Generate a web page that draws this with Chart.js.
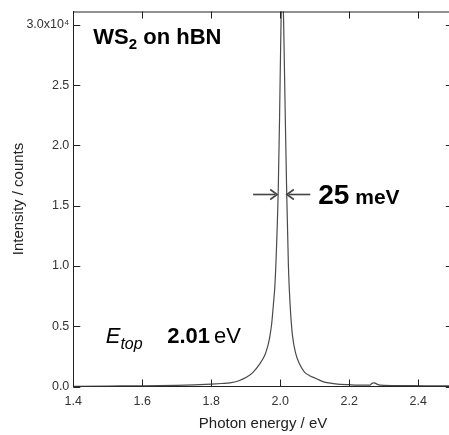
<!DOCTYPE html>
<html>
<head>
<meta charset="utf-8">
<script src="https://cdn.jsdelivr.net/npm/chart.js@4.4.1/dist/chart.umd.min.js"></script>
<style>
  html, body { margin: 0; padding: 0; background: #fff; overflow: hidden; }
  canvas { display: block; }
</style>
</head>
<body>
<canvas id="c" width="456" height="435"></canvas>
<script>
// Photon energy (eV)
const energy = [1.40, 1.50, 1.60, 1.70, 1.75, 1.80, 1.83, 1.854, 1.88, 1.903, 1.92, 1.941, 1.955, 1.96,
  1.965, 1.970, 1.975, 1.980, 1.9846, 1.989, 1.9942, 1.998, 2.002, 2.006, 2.0098, 2.014, 2.0186,
  2.0235, 2.028, 2.035, 2.045, 2.057, 2.07, 2.085, 2.10, 2.12, 2.135, 2.16, 2.20, 2.24, 2.26,
  2.265, 2.27, 2.275, 2.28, 2.29, 2.35, 2.42, 2.5];
// PL intensity (counts)
const intensity = [20, 40, 60, 100, 140, 200, 250, 300, 480, 780, 1150, 1900, 2600, 3000,
  3500, 4200, 5200, 6800, 8500, 11500, 16500, 22500, 30000, 33500, 30000, 23000, 16000,
  10000, 7000, 4300, 2700, 1800, 1200, 900, 700, 450, 320, 220, 150, 110, 110,
  250, 300, 280, 200, 120, 80, 60, 50];
// Axis ticks
const xTicks = [1.4, 1.6, 1.8, 2.0, 2.2, 2.4];
const xTickLabels = ['1.4', '1.6', '1.8', '2.0', '2.2', '2.4'];
const yTicks = [0, 5000, 10000, 15000, 20000, 25000, 30000];
const yTickLabels = ['0.0', '0.5', '1.0', '1.5', '2.0', '2.5', '3.0x10\u2074'];
// Annotation values
const fwhmLevel = 16000;
const fwhmText = ['25', ' meV'];
const peakText = '2.01';

const points = energy.map((e, i) => ({ x: e, y: intensity[i] }));
const FONT = "'Liberation Sans', Arial, Helvetica, sans-serif";

const decor = {
  id: 'decor',
  afterDraw(chart) {
    const { ctx, chartArea: { left, right, top, bottom }, scales: { x, y } } = chart;
    ctx.save();
    ctx.strokeStyle = '#222';
    ctx.lineWidth = 1;
    ctx.beginPath();
    ctx.moveTo(left, top + 0.5); ctx.lineTo(right, top + 0.5);
    ctx.moveTo(right - 0.5, top); ctx.lineTo(right - 0.5, bottom);
    const tl = 7;
    xTicks.forEach(v => {
      const px = Math.round(x.getPixelForValue(v)) + 0.5;
      ctx.moveTo(px, bottom); ctx.lineTo(px, bottom - tl);
      ctx.moveTo(px, top); ctx.lineTo(px, top + tl);
    });
    yTicks.forEach(v => {
      const py = Math.round(y.getPixelForValue(v)) + 0.5;
      ctx.moveTo(left, py); ctx.lineTo(left + tl, py);
      ctx.moveTo(right, py); ctx.lineTo(right - tl, py);
    });
    ctx.stroke();

    // Title WS2 on hBN
    ctx.fillStyle = '#000';
    ctx.textBaseline = 'alphabetic';
    ctx.textAlign = 'left';
    let tx = x.getPixelForValue(1.458), ty = y.getPixelForValue(28400);
    ctx.font = `bold 22px ${FONT}`;
    ctx.fillText('WS', tx, ty); tx += ctx.measureText('WS').width;
    ctx.font = `bold 15px ${FONT}`;
    ctx.fillText('2', tx, ty + 5); tx += ctx.measureText('2').width;
    ctx.font = `bold 22px ${FONT}`;
    ctx.fillText(' on hBN', tx, ty);

    // FWHM arrows
    const ay = Math.round(y.getPixelForValue(fwhmLevel)) + 0.5;
    ctx.strokeStyle = '#444'; ctx.fillStyle = '#444'; ctx.lineWidth = 1.6;
    const arrow = (x0, x1) => {
      const dir = Math.sign(x1 - x0);
      ctx.beginPath(); ctx.moveTo(x0, ay); ctx.lineTo(x1 - dir * 2, ay); ctx.stroke();
      ctx.beginPath();
      ctx.moveTo(x1 - dir * 7, ay - 5); ctx.lineTo(x1, ay); ctx.lineTo(x1 - dir * 7, ay + 5);
      ctx.stroke();
    };
    arrow(x.getPixelForValue(1.921), x.getPixelForValue(1.991));
    arrow(x.getPixelForValue(2.087), x.getPixelForValue(2.019));

    // 25 meV
    ctx.fillStyle = '#000';
    tx = x.getPixelForValue(2.110); ty = y.getPixelForValue(15100);
    ctx.font = `bold 28px ${FONT}`;
    ctx.fillText(fwhmText[0], tx, ty); tx += ctx.measureText(fwhmText[0]).width;
    ctx.font = `bold 21px ${FONT}`;
    ctx.fillText(fwhmText[1], tx, ty);

    // E_top 2.01 eV
    tx = x.getPixelForValue(1.494); ty = y.getPixelForValue(3600);
    ctx.font = `italic 22px ${FONT}`;
    ctx.fillText('E', tx, ty); tx += ctx.measureText('E').width;
    ctx.font = `italic 16px ${FONT}`;
    ctx.fillText('top', tx, ty + 6);
    tx = x.getPixelForValue(1.672);
    ctx.font = `bold 22px ${FONT}`;
    ctx.fillText(peakText, tx, ty); tx += ctx.measureText(peakText).width + 4;
    ctx.font = `22px ${FONT}`;
    ctx.fillText('eV', tx, ty);
    ctx.restore();
  }
};

new Chart(document.getElementById('c'), {
  type: 'scatter',
  data: {
    datasets: [{
      data: points,
      showLine: true,
      borderColor: '#4a4a4a',
      borderWidth: 1.2,
      pointRadius: 0,
      cubicInterpolationMode: 'monotone'
    }]
  },
  options: {
    responsive: false,
    animation: false,
    devicePixelRatio: 1,
    layout: { padding: { top: 7, right: 3.2, left: 0, bottom: 0 } },
    plugins: { legend: { display: false }, tooltip: { enabled: false } },
    scales: {
      x: {
        type: 'linear', min: 1.4, max: 2.5,
        afterFit: s => { s.height = 48.5; },
        afterBuildTicks: s => { s.ticks = xTicks.map(v => ({ value: v })); },
        grid: { display: false, drawTicks: false },
        border: { display: true, color: '#222', width: 1 },
        ticks: {
          padding: 8, color: '#333', maxRotation: 0, autoSkip: false,
          font: { family: FONT, size: 12.5 },
          callback: (v, i) => xTickLabels[i]
        },
        title: {
          display: true, text: 'Photon energy / eV', color: '#222',
          font: { family: FONT, size: 15 }, padding: { top: 0, bottom: 2 }
        }
      },
      y: {
        type: 'linear', min: 0, max: 31100,
        afterFit: s => { s.width = 73.3; },
        afterBuildTicks: s => { s.ticks = yTicks.map(v => ({ value: v })); },
        grid: { display: false, drawTicks: false },
        border: { display: true, color: '#222', width: 1 },
        ticks: {
          padding: 4, color: '#333', autoSkip: false,
          font: { family: FONT, size: 12.5 },
          callback: (v, i) => yTickLabels[i]
        },
        title: {
          display: true, text: 'Intensity / counts', color: '#222',
          font: { family: FONT, size: 15 }, padding: { top: 10, bottom: 0 }
        }
      }
    }
  },
  plugins: [decor]
});
</script>
</body>
</html>
